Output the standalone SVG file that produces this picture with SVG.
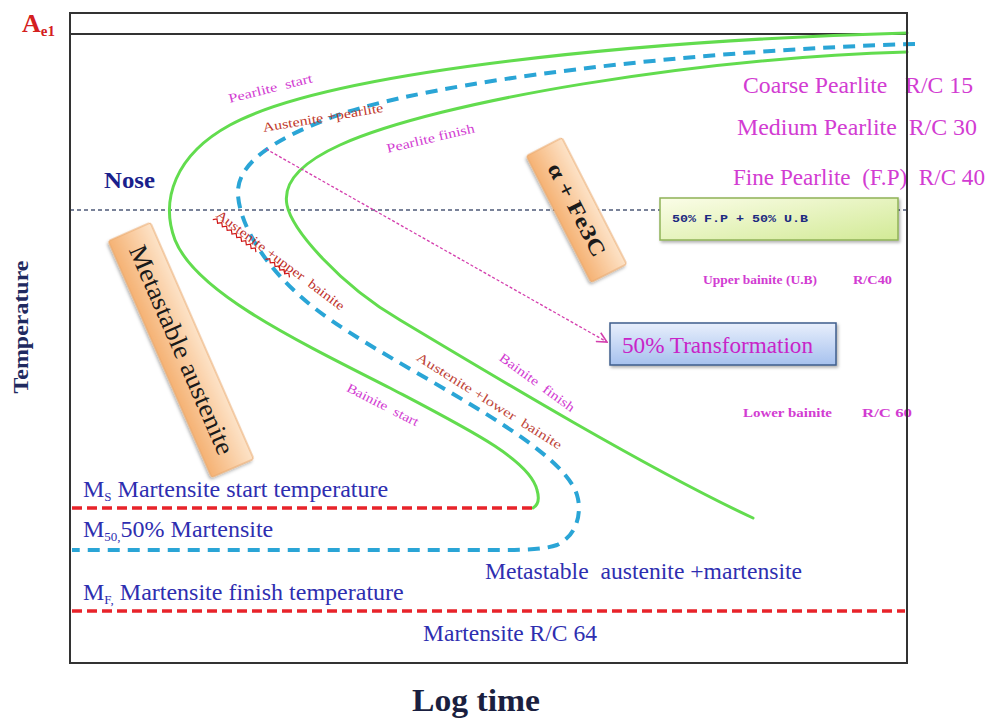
<svg xmlns="http://www.w3.org/2000/svg" width="988" height="723" viewBox="0 0 988 723">
<defs>
  <linearGradient id="gOrange" x1="0" y1="0" x2="0" y2="1">
    <stop offset="0" stop-color="#fde3c8"/>
    <stop offset="1" stop-color="#f5b274"/>
  </linearGradient>
  <linearGradient id="gGreen" x1="0" y1="0" x2="1" y2="1">
    <stop offset="0" stop-color="#fbfde8"/>
    <stop offset="1" stop-color="#d2ea96"/>
  </linearGradient>
  <linearGradient id="gBlue" x1="0" y1="0" x2="0" y2="1">
    <stop offset="0" stop-color="#e8effc"/>
    <stop offset="1" stop-color="#a6c1ee"/>
  </linearGradient>
  <filter id="shadow" x="-20%" y="-20%" width="140%" height="140%">
    <feDropShadow dx="1.5" dy="2" stdDeviation="1.5" flood-color="#000" flood-opacity="0.3"/>
  </filter>
  <marker id="arrowPink" viewBox="0 0 12 12" refX="11" refY="6" markerWidth="12" markerHeight="12" orient="auto" markerUnits="userSpaceOnUse">
    <path d="M1,1 L11,6 L1,11" fill="none" stroke="#d43fae" stroke-width="1.6"/>
  </marker>
</defs>
<style>
  .sf{font-family:"Liberation Serif","Times New Roman",serif}
  .mono{font-family:"Liberation Mono","Courier New",monospace}
  .mag{fill:#d23cd2}
  .blu{fill:#2e2eb0}
  .rd{fill:#bf3a2c}
  .green{fill:none;stroke:#62dc4e;stroke-width:3;stroke-linecap:round}
  .cyan{fill:none;stroke:#2aa5d6;stroke-width:4;stroke-dasharray:12 8}
  .reddash{fill:none;stroke:#e8232a;stroke-width:3.5;stroke-dasharray:10 5}
  .small{font-size:13px}
  .zig{fill:none;stroke:#d01818;stroke-width:1.2}
</style>

<rect x="0" y="0" width="988" height="723" fill="#ffffff"/>

<!-- reference lines -->
<g id="reference-lines">
  <line x1="70" y1="34" x2="907" y2="34" stroke="#333" stroke-width="2"/>
  <line x1="70" y1="210" x2="907" y2="210" stroke="#4e5a78" stroke-width="1.5" stroke-dasharray="4 3"/>
</g>

<!-- connectors: curves and lines -->
<g id="connectors">
  <path id="curve-start" class="green" d="M907,33 C650,40 330,70 230,125 C175,155 160,200 175,240 C195,290 285,335 390,388 C470,430 530,460 537,490 C540,500 538,505 533,508"/>
  <path id="curve-finish" class="green" d="M907,52 C700,58 440,100 340,145 C296,165 283,185 287,205 C292,230 340,285 400,320 C500,380 650,470 753,518"/>
  <path id="curve-50" class="cyan" d="M915,44 C700,50 430,80 330,118 C270,141 236,165 238,195 C240,225 265,270 317,310 C390,366 560,440 577,495 C582,511 578,535 557,545 C540,551 510,550 470,550 L72,550"/>
  <line id="line-ms" class="reddash" x1="72" y1="508" x2="532" y2="508"/>
  <line id="line-mf" class="reddash" x1="72" y1="611" x2="905" y2="611"/>
  <line id="arrow-50" x1="266" y1="149" x2="607" y2="342" stroke="#d43fae" stroke-width="1.3" stroke-dasharray="3 2" marker-end="url(#arrowPink)"/>
</g>

<!-- curve labels -->
<g id="lbl-pearlite-start" transform="translate(229,100) rotate(-14)">
  <text class="sf mag small" x="0" y="3" textLength="86" lengthAdjust="spacingAndGlyphs" xml:space="preserve">Pearlite  start</text>
</g>
<g id="lbl-aust-pearlite" transform="translate(263,129) rotate(-9.5)">
  <text class="sf rd small" x="0" y="3" textLength="122" lengthAdjust="spacingAndGlyphs">Austenite +pearlite</text>
</g>
<g id="lbl-pearlite-finish" transform="translate(387,150) rotate(-13.4)">
  <text class="sf mag small" x="0" y="3" textLength="90" lengthAdjust="spacingAndGlyphs">Pearlite finish</text>
</g>
<g id="lbl-aust-upper" transform="translate(217,214) rotate(37)">
  <text class="sf small" fill="#c0302a" x="0" y="3" textLength="157" lengthAdjust="spacingAndGlyphs" xml:space="preserve">Austenite +upper  bainite</text>
  <path class="zig" d="M0,7 L3,4 L6,7 L9,4 L12,7 L15,4 L18,7 L21,4 L24,7 L27,4 L30,7 L33,4 L36,7 L39,4 L42,7 L45,4 L48,7 L51,4 L54,7"/>
  <path class="zig" d="M66,7 L69,4 L72,7 L75,4 L78,7 L81,4 L84,7 L87,4 L90,7 L93,4 L96,7"/>
</g>
<g id="lbl-bainite-start" transform="translate(347,388) rotate(27)">
  <text class="sf mag small" x="0" y="3" textLength="79" lengthAdjust="spacingAndGlyphs" xml:space="preserve">Bainite  start</text>
</g>
<g id="lbl-aust-lower" transform="translate(417,357) rotate(32.2)">
  <text class="sf small" fill="#c0463a" x="0" y="3" textLength="169" lengthAdjust="spacingAndGlyphs" xml:space="preserve">Austenite +lower  bainite</text>
</g>
<g id="lbl-bainite-finish" transform="translate(500,357) rotate(36)">
  <text class="sf mag small" x="0" y="3" textLength="90" lengthAdjust="spacingAndGlyphs" xml:space="preserve">Bainite  finish</text>
</g>

<!-- node boxes -->
<g id="node-metastable-austenite" transform="translate(181,350) rotate(66.4)">
  <rect x="-129" y="-23" width="258" height="46" rx="2" fill="url(#gOrange)" stroke="#eaa76a" stroke-width="1" filter="url(#shadow)"/>
  <text class="sf" x="0" y="8" text-anchor="middle" font-size="26" fill="#1a1a1a" textLength="226" lengthAdjust="spacingAndGlyphs">Metastable austenite</text>
</g>
<g id="node-alpha-fe3c" transform="translate(576.5,210) rotate(62.9)">
  <rect x="-71" y="-20" width="142" height="40" rx="2" fill="url(#gOrange)" stroke="#eaa76a" stroke-width="1" filter="url(#shadow)"/>
  <text class="sf" x="0" y="7" text-anchor="middle" font-size="22" font-weight="bold" fill="#1a1a1a" textLength="102" lengthAdjust="spacingAndGlyphs">α + Fe3C</text>
</g>
<g id="node-fp-ub">
  <rect x="660" y="198" width="238" height="42" fill="url(#gGreen)" stroke="#8fb257" stroke-width="1.5" filter="url(#shadow)"/>
  <text class="mono" x="672" y="222" font-size="11" font-weight="bold" fill="#1c2a80" textLength="136" lengthAdjust="spacingAndGlyphs">50% F.P + 50% U.B</text>
</g>
<g id="node-50-transformation">
  <rect x="610" y="323" width="226" height="42" fill="url(#gBlue)" stroke="#3e5d8c" stroke-width="1.5" filter="url(#shadow)"/>
  <text class="sf" x="622" y="353" font-size="23" fill="#c824c8" textLength="191" lengthAdjust="spacingAndGlyphs">50% Transformation</text>
</g>

<!-- right side property labels -->
<g id="lbl-properties">
  <text class="sf mag" x="743" y="93" font-size="23" textLength="230" lengthAdjust="spacingAndGlyphs" xml:space="preserve">Coarse Pearlite   R/C 15</text>
  <text class="sf mag" x="737" y="135" font-size="23" textLength="240" lengthAdjust="spacingAndGlyphs" xml:space="preserve">Medium Pearlite  R/C 30</text>
  <text class="sf mag" x="733" y="185" font-size="23" textLength="252" lengthAdjust="spacingAndGlyphs" xml:space="preserve">Fine Pearlite  (F.P)  R/C 40</text>
  <text class="sf mag" x="703" y="284" font-size="12" font-weight="bold" textLength="114" lengthAdjust="spacingAndGlyphs">Upper bainite (U.B)</text>
  <text class="sf mag" x="853" y="284" font-size="12" font-weight="bold" textLength="39" lengthAdjust="spacingAndGlyphs">R/C40</text>
  <text class="sf mag" x="743" y="417" font-size="12" font-weight="bold" textLength="89" lengthAdjust="spacingAndGlyphs">Lower bainite</text>
  <text class="sf mag" x="862" y="417" font-size="12" font-weight="bold" textLength="50" lengthAdjust="spacingAndGlyphs">R/C 60</text>
</g>

<!-- martensite labels -->
<g id="lbl-martensite">
  <text class="sf blu" x="83" y="497" font-size="24">M<tspan font-size="13" dy="4">S</tspan><tspan dy="-4"> Martensite start temperature</tspan></text>
  <text class="sf blu" x="83" y="537" font-size="24">M<tspan font-size="13" dy="4">50,</tspan><tspan dy="-4">50% Martensite</tspan></text>
  <text class="sf blu" x="485" y="579" font-size="24" textLength="317" lengthAdjust="spacingAndGlyphs" xml:space="preserve">Metastable  austenite +martensite</text>
  <text class="sf blu" x="83" y="600" font-size="24">M<tspan font-size="13" dy="4">F,</tspan><tspan dy="-4"> Martensite finish temperature</tspan></text>
  <text class="sf blu" x="423" y="641" font-size="24" textLength="174" lengthAdjust="spacingAndGlyphs">Martensite R/C 64</text>
</g>

<!-- axis labels -->
<g id="axis-labels">
  <text class="sf" x="22" y="32" font-size="26" font-weight="bold" fill="#d42020">A<tspan font-size="15" dy="4">e1</tspan></text>
  <text class="sf" x="104" y="188" font-size="24" font-weight="bold" fill="#1a1f8c" textLength="51" lengthAdjust="spacingAndGlyphs">Nose</text>
  <text class="sf" x="28" y="327" font-size="22" font-weight="bold" fill="#1f2a60" text-anchor="middle" transform="rotate(-90,28,327)" textLength="133" lengthAdjust="spacingAndGlyphs">Temperature</text>
  <text class="sf" x="412" y="711" font-size="32" font-weight="bold" fill="#1a1f40" textLength="128" lengthAdjust="spacingAndGlyphs">Log time</text>
</g>

<!-- frame -->
<rect id="frame" x="70" y="13" width="837" height="650" fill="none" stroke="#333" stroke-width="2"/>
</svg>
